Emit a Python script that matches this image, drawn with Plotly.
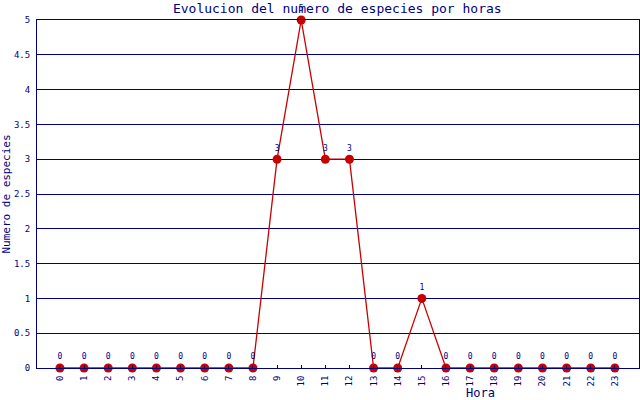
import plotly.graph_objects as go

horas = list(range(24))
especies = [0, 0, 0, 0, 0, 0, 0, 0, 0, 3, 5, 3, 3, 0, 0, 1, 0, 0, 0, 0, 0, 0, 0, 0]
y_ticks = [0, 0.5, 1, 1.5, 2, 2.5, 3, 3.5, 4, 4.5, 5]
y_labels = ["0", "0.5", "1", "1.5", "2", "2.5", "3", "3.5", "4", "4.5", "5"]

NAVY = "#000080"
RED = "#c80000"
FONT = "DejaVu Sans Mono"

fig = go.Figure()
fig.add_trace(go.Scatter(
    x=horas, y=especies,
    mode="lines+markers+text",
    line=dict(color=RED, width=1.3),
    marker=dict(color=RED, size=9),
    text=[str(v) for v in especies],
    textposition="top center",
    textfont=dict(family=FONT, size=8, color=NAVY),
    cliponaxis=False,
    showlegend=False,
))

fig.update_layout(
    width=640, height=400,
    margin=dict(l=37, r=1, t=20, b=32),
    paper_bgcolor="white", plot_bgcolor="white",
    font=dict(family=FONT, color=NAVY),
    title=dict(text="Evolucion del numero de especies por horas",
               x=0.527, xanchor="center", y=0.98, yanchor="middle",
               font=dict(family=FONT, size=13, color=NAVY)),
    xaxis=dict(
        range=[-0.95, 24.0],
        automargin=False,
        tickmode="array", tickvals=horas, ticktext=[str(h) for h in horas],
        tickangle=-90,
        tickfont=dict(family=FONT, size=9, color=NAVY),
        ticks="inside", ticklen=3, tickcolor=NAVY,
        ticklabelstandoff=3,
        showgrid=False, zeroline=False,
        showline=True, linecolor=NAVY, linewidth=1, mirror=True,
    ),
    yaxis=dict(
        range=[0, 5],
        automargin=False,
        tickmode="array", tickvals=y_ticks, ticktext=y_labels,
        tickfont=dict(family=FONT, size=9, color=NAVY),
        showgrid=True, gridcolor=NAVY, gridwidth=1,
        zeroline=False,
        showline=True, linecolor=NAVY, linewidth=1, mirror=True,
        ticks="", ticklabelstandoff=4,
        title=dict(text="Numero de especies", font=dict(family=FONT, size=11, color=NAVY), standoff=6),
    ),
    annotations=[dict(
        text="Hora", xref="paper", yref="paper", x=0.737, y=-0.072,
        xanchor="center", yanchor="middle", showarrow=False,
        font=dict(family=FONT, size=12, color=NAVY),
    )],
)

fig.write_html("out.html", config={"displayModeBar": False},
               post_script="document.body.style.margin='0px';")
